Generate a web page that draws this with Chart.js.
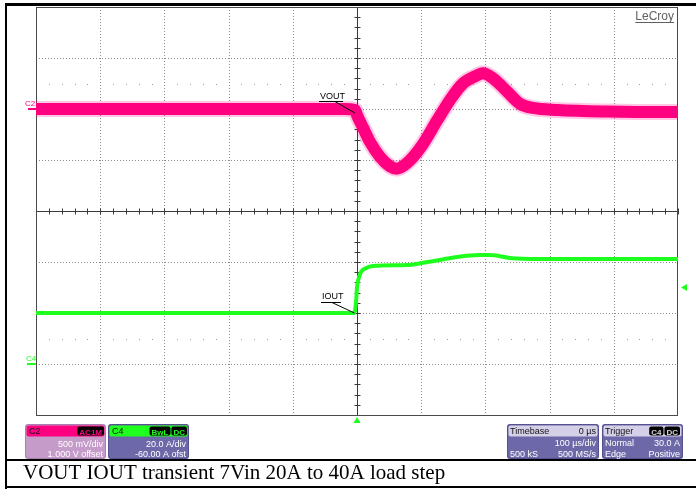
<!DOCTYPE html>
<html>
<head>
<meta charset="utf-8">
<script src="https://cdn.jsdelivr.net/npm/chart.js@4/dist/chart.umd.min.js"></script>
<style>
  html, body { margin: 0; padding: 0; background: #fff; }
  canvas { display: block; }
</style>
</head>
<body>
<canvas id="scope" width="696" height="489"></canvas>
<script>
// ---- Captured waveforms (time in µs relative to trigger) ----
// C2: output voltage, AC coupled, deviation in mV
const voutTime = [-500, -250, -20, -3, 0, 10, 20, 36, 51, 62, 78, 101, 125, 145, 165, 187, 196, 212, 234, 254, 274, 312, 389, 492, 500];
const voutMv   = [0, 0, 0, -10, -60, -190, -320, -470, -560, -585, -530, -360, -110, 90, 250, 330, 350, 300, 170, 50, 10, -10, -25, -30, -30];

// C4: output current in A
const ioutTime = [-500, -4, -1, 0, 2, 6, 14, 25, 78, 101, 129, 156, 192, 207, 238, 285, 500];
const ioutAmp  = [20, 20, 26, 30, 33, 36, 37.6, 38.4, 38.8, 39.6, 40.8, 42.0, 42.7, 42.7, 41.6, 41.2, 41.2];

// Horizontal: 100 µs/div, 10 divisions; vertical: 8 divisions
const timeDivUs = [-500, -400, -300, -200, -100, 0, 100, 200, 300, 400, 500];
const vertDivs  = [-4, -3, -2, -1, 0, 1, 2, 3, 4];

// Channel settings (C2: 500 mV/div, +1.000 V offset; C4: 20 A/div, -60 A offset)
const c2Scale = [-3000, 1000];   // mV range on screen
const c4Scale = [-20, 140];      // A range on screen
const triggerLevelA = 30;

// Readout panels
const c2Head = ['C2', 'AC1M'];
const c2Lines = ['500 mV/div', '1.000 V offset'];
const c4Head = ['C4', 'BwL', 'DC'];
const c4Lines = ['20.0 A/div', '-60.00 A ofst'];
const timebaseRows = [['Timebase', '0 µs'], ['', '100 µs/div'], ['500 kS', '500 MS/s']];
const triggerRows = [['Trigger', 'C4DC'], ['Normal', '30.0 A'], ['Edge', 'Positive']];
const captionText = 'VOUT IOUT transient 7Vin 20A to 40A load step';

const PINK = 'rgb(255,0,128)';
const GREEN = 'rgb(30,255,30)';
const SANS = "'Liberation Sans', Arial, sans-serif";

function rrect(ctx, x, y, w, h, r) {
  ctx.beginPath();
  ctx.moveTo(x + r, y);
  ctx.lineTo(x + w - r, y);
  ctx.quadraticCurveTo(x + w, y, x + w, y + r);
  ctx.lineTo(x + w, y + h - r);
  ctx.quadraticCurveTo(x + w, y + h, x + w - r, y + h);
  ctx.lineTo(x + r, y + h);
  ctx.quadraticCurveTo(x, y + h, x, y + h - r);
  ctx.lineTo(x, y + r);
  ctx.quadraticCurveTo(x, y, x + r, y);
  ctx.closePath();
}

function badge(ctx, text, xRight, y, fg) {
  ctx.font = 'bold 8px ' + SANS;
  const w = ctx.measureText(text).width + 4;
  ctx.fillStyle = '#000';
  rrect(ctx, xRight - w, y, w, 9, 2);
  ctx.fill();
  ctx.fillStyle = fg;
  ctx.textAlign = 'left';
  ctx.fillText(text, xRight - w + 2, y + 8);
  return xRight - w;
}

// Graticule: dotted divisions, centre cross with minor ticks, outline
const graticule = {
  id: 'graticule',
  beforeDatasetsDraw(chart) {
    const { ctx, chartArea: a, scales } = chart;
    const x = scales.x, d = scales.div;
    ctx.save();
    ctx.lineWidth = 1;
    ctx.strokeStyle = '#8c8c8c';
    ctx.setLineDash([1, 2]);
    timeDivUs.forEach(t => {
      if (t === 0 || t === timeDivUs[0] || t === timeDivUs[timeDivUs.length - 1]) return;
      const px = Math.round(x.getPixelForValue(t)) + 0.5;
      ctx.beginPath(); ctx.moveTo(px, a.top); ctx.lineTo(px, a.bottom); ctx.stroke();
    });
    vertDivs.forEach(v => {
      if (v === 0 || Math.abs(v) === 4) return;
      const py = Math.round(d.getPixelForValue(v)) + 0.5;
      ctx.beginPath(); ctx.moveTo(a.left, py); ctx.lineTo(a.right, py); ctx.stroke();
    });
    ctx.setLineDash([]);
    // sparse dot rows at ±2.5 divisions
    ctx.fillStyle = '#9a9a9a';
    [2.5, -2.5].forEach(v => {
      const py = Math.round(d.getPixelForValue(v));
      for (let t = -500; t <= 500; t += 20) {
        if (t % 100 === 0) continue;
        ctx.fillRect(Math.round(x.getPixelForValue(t)), py, 1, 1);
      }
    });
    // centre cross
    ctx.strokeStyle = '#3a3a3a';
    const cx = Math.round(x.getPixelForValue(0)) + 0.5;
    const cy = Math.round(d.getPixelForValue(0)) + 0.5;
    ctx.beginPath(); ctx.moveTo(cx, a.top); ctx.lineTo(cx, a.bottom); ctx.stroke();
    ctx.beginPath(); ctx.moveTo(a.left, cy); ctx.lineTo(a.right, cy); ctx.stroke();
    for (let t = -500; t <= 500; t += 20) {
      const px = Math.round(x.getPixelForValue(t)) + 0.5;
      ctx.beginPath(); ctx.moveTo(px, cy - 3); ctx.lineTo(px, cy + 3); ctx.stroke();
    }
    for (let v = -4; v <= 4.001; v += 0.2) {
      const py = Math.round(d.getPixelForValue(v)) + 0.5;
      ctx.beginPath(); ctx.moveTo(cx - 3, py); ctx.lineTo(cx + 3, py); ctx.stroke();
    }
    // outline
    ctx.strokeStyle = '#4a4a4a';
    ctx.strokeRect(a.left + 0.5, a.top + 0.5, a.right - a.left - 1, a.bottom - a.top);
    ctx.restore();
  },
  afterDatasetsDraw(chart) {
    const { ctx, chartArea: a, scales } = chart;
    const x = scales.x, yV = scales.yV, yI = scales.yI;
    ctx.save();
    ctx.font = '9px ' + SANS;
    ctx.textAlign = 'left';
    ctx.textBaseline = 'alphabetic';
    // VOUT label with leader
    const vx = x.getPixelForValue(0), vy = yV.getPixelForValue(voutMv[voutTime.indexOf(0)]) - 2;
    ctx.fillStyle = '#000';
    ctx.fillText('VOUT', 320, 99);
    ctx.strokeStyle = '#000'; ctx.lineWidth = 1;
    ctx.beginPath(); ctx.moveTo(319, 101.5); ctx.lineTo(343, 101.5); ctx.stroke();
    ctx.beginPath(); ctx.moveTo(335, 101.5); ctx.lineTo(vx - 2, vy); ctx.stroke();
    // IOUT label with leader
    const ix = x.getPixelForValue(-4), iy = yI.getPixelForValue(ioutAmp[1]);
    ctx.fillText('IOUT', 322, 299);
    ctx.beginPath(); ctx.moveTo(321, 302.5); ctx.lineTo(341, 302.5); ctx.stroke();
    ctx.beginPath(); ctx.moveTo(332, 302.5); ctx.lineTo(ix, iy); ctx.stroke();

    // channel ground markers
    ctx.font = '8px ' + SANS;
    ctx.fillStyle = PINK;
    const g2 = Math.round(yV.getPixelForValue(0));
    ctx.fillText('C2', 25, g2 - 3);
    ctx.fillRect(28, g2 - 1, 8, 2);
    ctx.fillStyle = GREEN;
    const g4 = Math.round(yI.getPixelForValue(0));
    ctx.fillText('C4', 26, g4 - 3);
    ctx.fillRect(27, g4 - 1, 9, 2);

    // trigger position (bottom) and trigger level (right)
    const tp = x.getPixelForValue(0);
    ctx.beginPath(); ctx.moveTo(tp, a.bottom + 2); ctx.lineTo(tp - 3.5, a.bottom + 8); ctx.lineTo(tp + 3.5, a.bottom + 8); ctx.closePath(); ctx.fill();
    const tl = yI.getPixelForValue(triggerLevelA);
    ctx.beginPath(); ctx.moveTo(a.right + 3, tl); ctx.lineTo(a.right + 9, tl - 3.5); ctx.lineTo(a.right + 9, tl + 3.5); ctx.closePath(); ctx.fill();

    // brand mark
    ctx.font = '12px ' + SANS;
    ctx.fillStyle = '#606060';
    ctx.textAlign = 'right';
    ctx.fillText('LeCroy', a.right - 4, 20);
    const bw = ctx.measureText('LeCroy').width;
    ctx.fillRect(a.right - 4 - bw, 22, bw, 1);
    ctx.restore();
  },
  afterDraw(chart) {
    const { ctx } = chart;
    ctx.save();
    ctx.textBaseline = 'alphabetic';
    const panel = (px, w, headColor, bodyColor, border) => {
      ctx.fillStyle = bodyColor;
      rrect(ctx, px, 424, w, 35, 3); ctx.fill();
      ctx.strokeStyle = border; ctx.lineWidth = 1;
      rrect(ctx, px + 0.5, 424.5, w - 1, 34, 3); ctx.stroke();
      ctx.fillStyle = headColor;
      rrect(ctx, px + 1.5, 425.5, w - 3, 11, 2); ctx.fill();
    };
    // C2 readout
    panel(25, 81, PINK, '#c59bca', '#a780b0');
    ctx.font = '9px ' + SANS; ctx.fillStyle = '#111'; ctx.textAlign = 'left';
    ctx.fillText(c2Head[0], 29, 434);
    badge(ctx, c2Head[1], 104, 426.5, PINK);
    ctx.font = '9px ' + SANS; ctx.fillStyle = '#fff'; ctx.textAlign = 'right';
    ctx.fillText(c2Lines[0], 103, 447);
    ctx.fillText(c2Lines[1], 103, 457);

    // C4 readout
    panel(108, 81, GREEN, '#6d68a7', '#55508e');
    ctx.font = '9px ' + SANS; ctx.fillStyle = '#111'; ctx.textAlign = 'left';
    ctx.fillText(c4Head[0], 112, 434);
    const bx = badge(ctx, c4Head[2], 187, 426.5, GREEN);
    badge(ctx, c4Head[1], bx - 1, 426.5, GREEN);
    ctx.font = '9px ' + SANS; ctx.fillStyle = '#fff'; ctx.textAlign = 'right';
    ctx.fillText(c4Lines[0], 186, 447);
    ctx.fillText(c4Lines[1], 186, 457);

    // Timebase and trigger readouts
    const rows = (px, w, data, withBadge) => {
      panel(px, w, '#d4d0e8', '#6d68a7', '#55508e');
      data.forEach((r, i) => {
        const by = 434 + i * 11.5;
        ctx.font = '9px ' + SANS;
        ctx.fillStyle = i === 0 ? '#111' : '#fff';
        ctx.textAlign = 'left';
        ctx.fillText(r[0], px + 3, by);
        if (i === 0 && withBadge) {
          const b2 = badge(ctx, 'DC', px + w - 3, 426.5, '#d8d8d8');
          badge(ctx, 'C4', b2 - 1, 426.5, '#d8d8d8');
        } else {
          ctx.font = '9px ' + SANS;
          ctx.fillStyle = i === 0 ? '#111' : '#fff';
          ctx.textAlign = 'right';
          ctx.fillText(r[1], px + w - 3, by);
        }
      });
    };
    rows(507, 92, timebaseRows, false);
    rows(602, 81, triggerRows, true);

    // frame and caption strip
    ctx.fillStyle = '#000';
    ctx.fillRect(5, 3, 691, 3);
    ctx.fillRect(5, 3, 2, 486);
    ctx.fillRect(5, 459, 691, 2);
    ctx.fillRect(5, 486, 691, 2);
    ctx.font = "21px 'Liberation Serif', 'Times New Roman', serif";
    ctx.textAlign = 'left';
    ctx.fillText(captionText, 23, 479);
    ctx.restore();
  }
};

const toXY = (xs, ys) => xs.map((t, i) => ({ x: t, y: ys[i] }));

new Chart(document.getElementById('scope'), {
  type: 'line',
  data: {
    datasets: [
      { label: 'VOUT fringe', data: toXY(voutTime, voutMv), yAxisID: 'yV',
        borderColor: 'rgba(255,0,128,0.22)', borderWidth: 16, pointRadius: 0,
        cubicInterpolationMode: 'monotone', borderJoinStyle: 'round', clip: 0 },
      { label: 'VOUT', data: toXY(voutTime, voutMv), yAxisID: 'yV',
        borderColor: PINK, borderWidth: 12, pointRadius: 0,
        cubicInterpolationMode: 'monotone', borderJoinStyle: 'round', clip: 0 },
      { label: 'IOUT', data: toXY(ioutTime, ioutAmp), yAxisID: 'yI',
        borderColor: GREEN, borderWidth: 4, pointRadius: 0,
        cubicInterpolationMode: 'monotone', borderJoinStyle: 'round', clip: 0 }
    ]
  },
  options: {
    responsive: false,
    animation: false,
    events: [],
    devicePixelRatio: 1,
    layout: { padding: { left: 36, right: 18, top: 7, bottom: 74 } },
    plugins: { legend: { display: false }, tooltip: { enabled: false } },
    scales: {
      x: { type: 'linear', min: timeDivUs[0], max: timeDivUs[timeDivUs.length - 1], display: false },
      yV: { type: 'linear', axis: 'y', min: c2Scale[0], max: c2Scale[1], display: false },
      yI: { type: 'linear', axis: 'y', min: c4Scale[0], max: c4Scale[1], display: false },
      div: { type: 'linear', axis: 'y', min: vertDivs[0], max: vertDivs[vertDivs.length - 1], display: false }
    }
  },
  plugins: [graticule]
});
</script>
</body>
</html>
